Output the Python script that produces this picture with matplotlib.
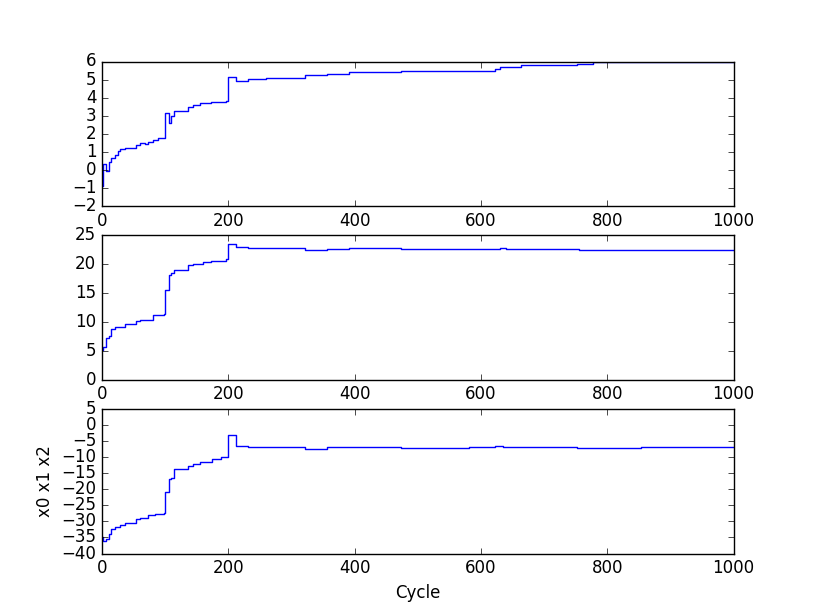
import matplotlib
matplotlib.use('Agg')
import matplotlib.pyplot as plt

plt.style.use('classic')

# breakpoints (cycle, value); held constant until the next one
x0_cycles = [0, 1, 7, 12, 15, 20, 25, 28, 36, 54, 60, 68, 73, 81, 89, 100, 106, 109, 114,
             136, 144, 155, 173, 197, 200, 212, 231, 260, 321, 356, 392, 474, 582, 622,
             630, 664, 753, 777, 854, 1000]
x0_values = [-0.9, 0.33, -0.05, 0.45, 0.65, 0.83, 1.07, 1.15, 1.24, 1.38, 1.51, 1.46, 1.57,
             1.67, 1.75, 3.13, 2.58, 2.96, 3.26, 3.50, 3.59, 3.69, 3.75, 3.82, 5.15, 4.92,
             5.03, 5.11, 5.25, 5.31, 5.40, 5.47, 5.50, 5.59, 5.71, 5.80, 5.86, 5.97, 6.0, 6.0]

x1_cycles = [0, 1, 7, 12, 14, 20, 28, 36, 54, 60, 81, 99, 100, 104, 106, 109, 114, 136, 144,
             160, 172, 197, 200, 212, 231, 260, 321, 356, 392, 474, 582, 630, 640, 755,
             854, 1000]
x1_values = [5.2, 5.7, 7.25, 7.6, 8.7, 9.1, 9.2, 9.6, 10.1, 10.4, 11.2, 11.45, 15.5, 15.6,
             18.1, 18.4, 18.9, 19.8, 20.1, 20.3, 20.5, 20.8, 23.4, 22.96, 22.8, 22.8, 22.45,
             22.6, 22.7, 22.6, 22.65, 22.7, 22.55, 22.35, 22.45, 22.45]

x2_cycles = [0, 1, 7, 12, 15, 20, 28, 36, 54, 60, 73, 84, 99, 100, 106, 109, 114, 136, 144,
             155, 175, 188, 200, 212, 231, 321, 356, 381, 474, 582, 622, 635, 753, 854, 1000]
x2_values = [-35.0, -36.0, -35.5, -34.0, -32.3, -31.7, -31.2, -30.4, -29.4, -28.9, -28.1,
             -27.8, -27.5, -20.9, -16.7, -16.5, -13.8, -12.8, -12.3, -11.6, -10.7, -10.0,
             -3.25, -6.6, -6.9, -7.5, -7.0, -6.8, -7.1, -6.9, -6.7, -6.8, -7.2, -6.9, -6.9]

fig = plt.figure(figsize=(8.15, 6.15), dpi=100)

series = [(x0_cycles, x0_values, (-2, 6)),
          (x1_cycles, x1_values, (0, 25)),
          (x2_cycles, x2_values, (-40, 5))]

for i, (cyc, val, ylim) in enumerate(series):
    ax = fig.add_subplot(3, 1, i + 1)
    ax.plot(cyc, val, color='b', drawstyle='steps-post')
    ax.set_xlim(0, 1000)
    ax.set_ylim(*ylim)

ax.set_xlabel('Cycle')
ax.set_ylabel('x0 x1 x2')

fig.savefig('out.png', dpi=100)
